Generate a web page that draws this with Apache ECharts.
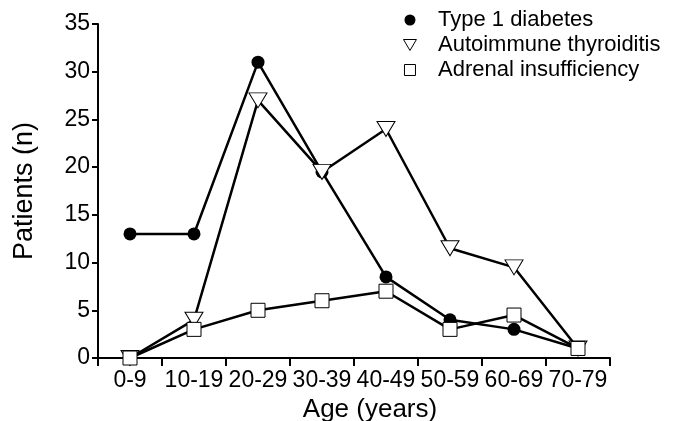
<!DOCTYPE html>
<html>
<head>
<meta charset="utf-8">
<script src="https://cdn.jsdelivr.net/npm/echarts@6/dist/echarts.min.js"></script>
<style>
  html, body { margin: 0; padding: 0; background: #fff; }
  #main { width: 673px; height: 421px; }
</style>
</head>
<body>
<div id="main"></div>
<script>
// data
var ageGroups = ['0-9', '10-19', '20-29', '30-39', '40-49', '50-59', '60-69', '70-79'];
var type1Diabetes = [13, 13, 31, 19.5, 8.5, 4, 3, 1];
var thyroiditis = [0, 4, 27, 19.5, 24, 11.5, 9.5, 1];
var adrenal = [0, 3, 5, 6, 7, 3, 4.5, 1];
var yTicks = [0, 5, 10, 15, 20, 25, 30, 35];

var font = 'Liberation Sans, Arial, Helvetica, sans-serif';
var downTriangle = 'path://M0,0 L20,0 L10,17 Z';
var square = 'path://M0,0 L10,0 L10,10 L0,10 Z';

var chart = echarts.init(document.getElementById('main'));

var option = {
  animation: false,
  backgroundColor: '#fff',
  grid: { left: 98, right: 63, top: 24, bottom: 63, outerBoundsMode: 'none' },
  legend: {
    orient: 'vertical',
    left: 403,
    top: 9,
    padding: 0,
    itemWidth: 14,
    itemHeight: 11,
    itemGap: 3,
    textStyle: { fontFamily: font, fontSize: 22, color: '#000', padding: [0, 0, 0, 16] },
    data: [
      { name: 'Type 1 diabetes', icon: 'circle',
        itemStyle: { color: '#000', borderWidth: 0 } },
      { name: 'Autoimmune thyroiditis', icon: downTriangle,
        itemStyle: { color: '#fff', borderColor: '#000', borderWidth: 1 } },
      { name: 'Adrenal insufficiency', icon: square,
        itemStyle: { color: '#fff', borderColor: '#000', borderWidth: 1 } }
    ]
  },
  xAxis: {
    type: 'category',
    data: ageGroups,
    boundaryGap: true,
    name: 'Age (years)',
    nameLocation: 'middle',
    nameGap: 36,
    nameTextStyle: { fontFamily: font, fontSize: 26, color: '#000', padding: [0, 0, 0, 32] },
    axisLine: { lineStyle: { color: '#000', width: 2 } },
    axisTick: { show: true, length: 8, lineStyle: { color: '#000', width: 2 } },
    axisLabel: { fontFamily: font, fontSize: 23, color: '#000', margin: 11, interval: 0 },
    splitLine: { show: false }
  },
  yAxis: {
    type: 'value',
    min: yTicks[0],
    max: yTicks[yTicks.length - 1],
    interval: 5,
    name: 'Patients (n)',
    nameLocation: 'middle',
    nameRotate: 90,
    nameGap: 60,
    nameTextStyle: { fontFamily: font, fontSize: 27, color: '#000' },
    axisLine: { show: true, lineStyle: { color: '#000', width: 2 } },
    axisTick: { show: true, length: 6, lineStyle: { color: '#000', width: 2 } },
    axisLabel: { fontFamily: font, fontSize: 23, color: '#000', margin: 8 },
    splitLine: { show: false }
  },
  series: [
    {
      name: 'Type 1 diabetes',
      type: 'line',
      data: type1Diabetes,
      symbol: 'circle',
      symbolSize: 13,
      showAllSymbol: true,
      lineStyle: { color: '#000', width: 2.5 },
      itemStyle: { color: '#000', borderWidth: 0 }
    },
    {
      name: 'Autoimmune thyroiditis',
      type: 'line',
      data: thyroiditis,
      symbol: downTriangle,
      symbolSize: [18, 15],
      showAllSymbol: true,
      lineStyle: { color: '#000', width: 2.5 },
      itemStyle: { color: '#fff', borderColor: '#000', borderWidth: 1 }
    },
    {
      name: 'Adrenal insufficiency',
      type: 'line',
      data: adrenal,
      symbol: 'rect',
      symbolSize: 14,
      showAllSymbol: true,
      lineStyle: { color: '#000', width: 2.5 },
      itemStyle: { color: '#fff', borderColor: '#000', borderWidth: 1 }
    }
  ]
};

chart.setOption(option);
</script>
</body>
</html>
